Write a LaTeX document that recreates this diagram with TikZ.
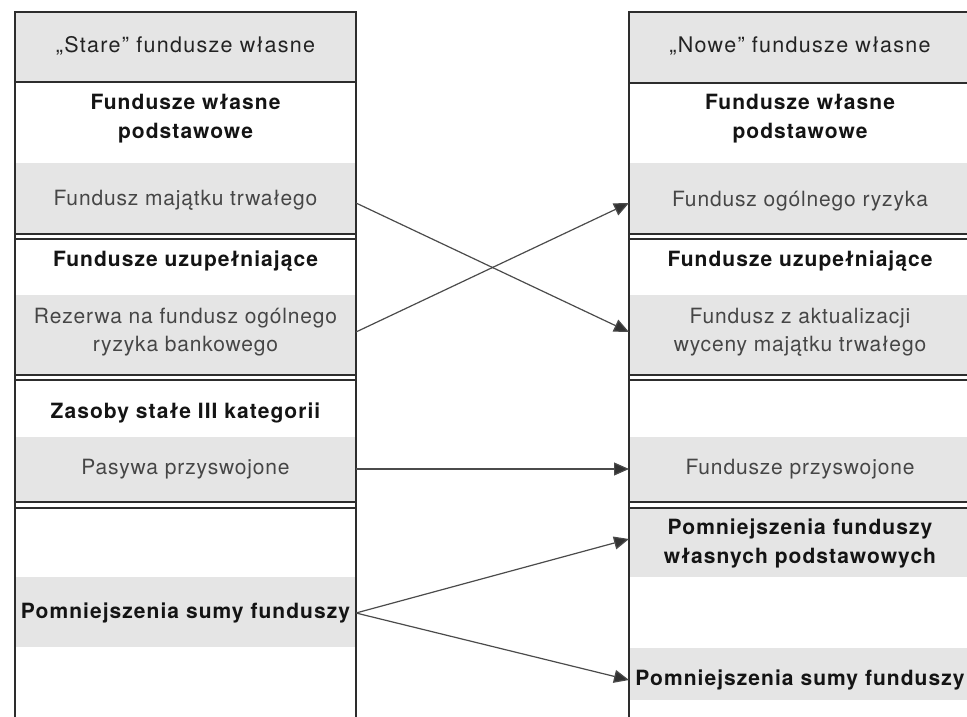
\documentclass[tikz,border=0pt]{standalone}
\usepackage{fontspec}
\newfontfamily\hvb{TeX Gyre Heros}[LetterSpace=5]
\newfontfamily\hvr{TeX Gyre Heros}[LetterSpace=4]
\newfontfamily\hvh{TeX Gyre Heros}[LetterSpace=6]
\usetikzlibrary{arrows.meta}
\definecolor{band}{RGB}{229,229,229}
\definecolor{rulec}{RGB}{45,45,45}
\definecolor{arrc}{RGB}{75,75,75}
\definecolor{tipc}{RGB}{50,50,50}
\definecolor{txtb}{RGB}{20,20,20}
\definecolor{txtr}{RGB}{70,70,70}
\definecolor{txth}{RGB}{35,35,35}
\begin{document}
\begin{tikzpicture}[x=1pt,y=-1pt,
  bandf/.style={fill=band,draw=none},
  rulel/.style={draw=rulec,line width=1.3pt},
  boxs/.style={draw=rulec,line width=1.3pt,anchor=north west,inner sep=0pt,outer sep=0pt},
  hdr/.style={font=\hvh\fontsize{21.5}{29}\selectfont,text=txth,align=center,inner sep=0pt},
  bt/.style={font=\hvb\fontsize{21}{29}\selectfont\bfseries,text=txtb,align=center,inner sep=0pt},
  rt/.style={font=\hvr\fontsize{21}{28}\selectfont,text=txtr,align=center,inner sep=0pt},
  arr/.style={draw=arrc,line width=1.2pt,-{Triangle[length=15pt,width=13pt,fill=tipc]}}]
\useasboundingbox (0,0) rectangle (967,717);
\clip (0,0) rectangle (967,717);
% background bands, left column
\fill[bandf] (15,12) rectangle (356,82);
\fill[bandf] (15,163) rectangle (356,234);
\fill[bandf] (15,295) rectangle (356,375);
\fill[bandf] (15,437) rectangle (356,502);
\fill[bandf] (15,577) rectangle (356,647);
% background bands, right column
\fill[bandf] (629,12) rectangle (975,83);
\fill[bandf] (629,163) rectangle (975,234);
\fill[bandf] (629,295) rectangle (975,375);
\fill[bandf] (629,437) rectangle (975,502);
\fill[bandf] (629,508) rectangle (975,577);
\fill[bandf] (629,648) rectangle (975,700);
% column frames
\node[boxs,minimum width=341pt,minimum height=720pt] (Lbox) at (15,12) {};
\node[boxs,minimum width=350pt,minimum height=720pt] (Rbox) at (629,12) {};
% separators, left
\draw[rulel] (15,82) -- (356,82);
\draw[rulel] (15,234) -- (356,234);
\draw[rulel] (15,239) -- (356,239);
\draw[rulel] (15,375) -- (356,375);
\draw[rulel] (15,380) -- (356,380);
\draw[rulel] (15,502) -- (356,502);
\draw[rulel] (15,508) -- (356,508);
% separators, right
\draw[rulel] (629,83) -- (975,83);
\draw[rulel] (629,234) -- (975,234);
\draw[rulel] (629,239) -- (975,239);
\draw[rulel] (629,375) -- (975,375);
\draw[rulel] (629,380) -- (975,380);
\draw[rulel] (629,502) -- (975,502);
\draw[rulel] (629,508) -- (975,508);
% left texts
\node[hdr] (sh) at (185.5,46) {„Stare” fundusze własne};
\node[bt] (lfp) at (185.5,119) {Fundusze własne\\podstawowe};
\node[rt] (lmt) at (185.5,200) {Fundusz majątku trwałego};
\node[bt] (lfu) at (185.5,261) {Fundusze uzupełniające};
\node[rt] (lrz) at (185.5,332) {Rezerwa na fundusz ogólnego\\ryzyka bankowego};
\node[bt] (lzs) at (185.5,413) {Zasoby stałe III kategorii};
\node[rt] (lpp) at (185.5,469) {Pasywa przyswojone};
\node[bt] (lps) at (185.5,613) {Pomniejszenia sumy funduszy};
% right texts
\node[hdr] (nh) at (800,46) {„Nowe” fundusze własne};
\node[bt] (rfp) at (800,119) {Fundusze własne\\podstawowe};
\node[rt] (rog) at (800,201) {Fundusz ogólnego ryzyka};
\node[bt] (rfu) at (800,261) {Fundusze uzupełniające};
\node[rt] (raw) at (800,332) {Fundusz z aktualizacji\\wyceny majątku trwałego};
\node[rt] (rfpr) at (800,469) {Fundusze przyswojone};
\node[bt] (rpf) at (800,543) {Pomniejszenia funduszy\\własnych podstawowych};
\node[bt] (rps) at (800,680) {Pomniejszenia sumy funduszy};
% connectors
\draw[arr] ([yshift=-3pt]lmt.center -| Lbox.east) -- (raw.center -| Rbox.west);
\draw[arr] (lrz.center -| Lbox.east) -- ([yshift=-2pt]rog.center -| Rbox.west);
\draw[arr] (lpp.center -| Lbox.east) -- (rfpr.center -| Rbox.west);
\draw[arr] (lps.center -| Lbox.east) -- ([yshift=4pt]rpf.center -| Rbox.west);
\draw[arr] (lps.center -| Lbox.east) -- (rps.center -| Rbox.west);
\end{tikzpicture}
\end{document}
